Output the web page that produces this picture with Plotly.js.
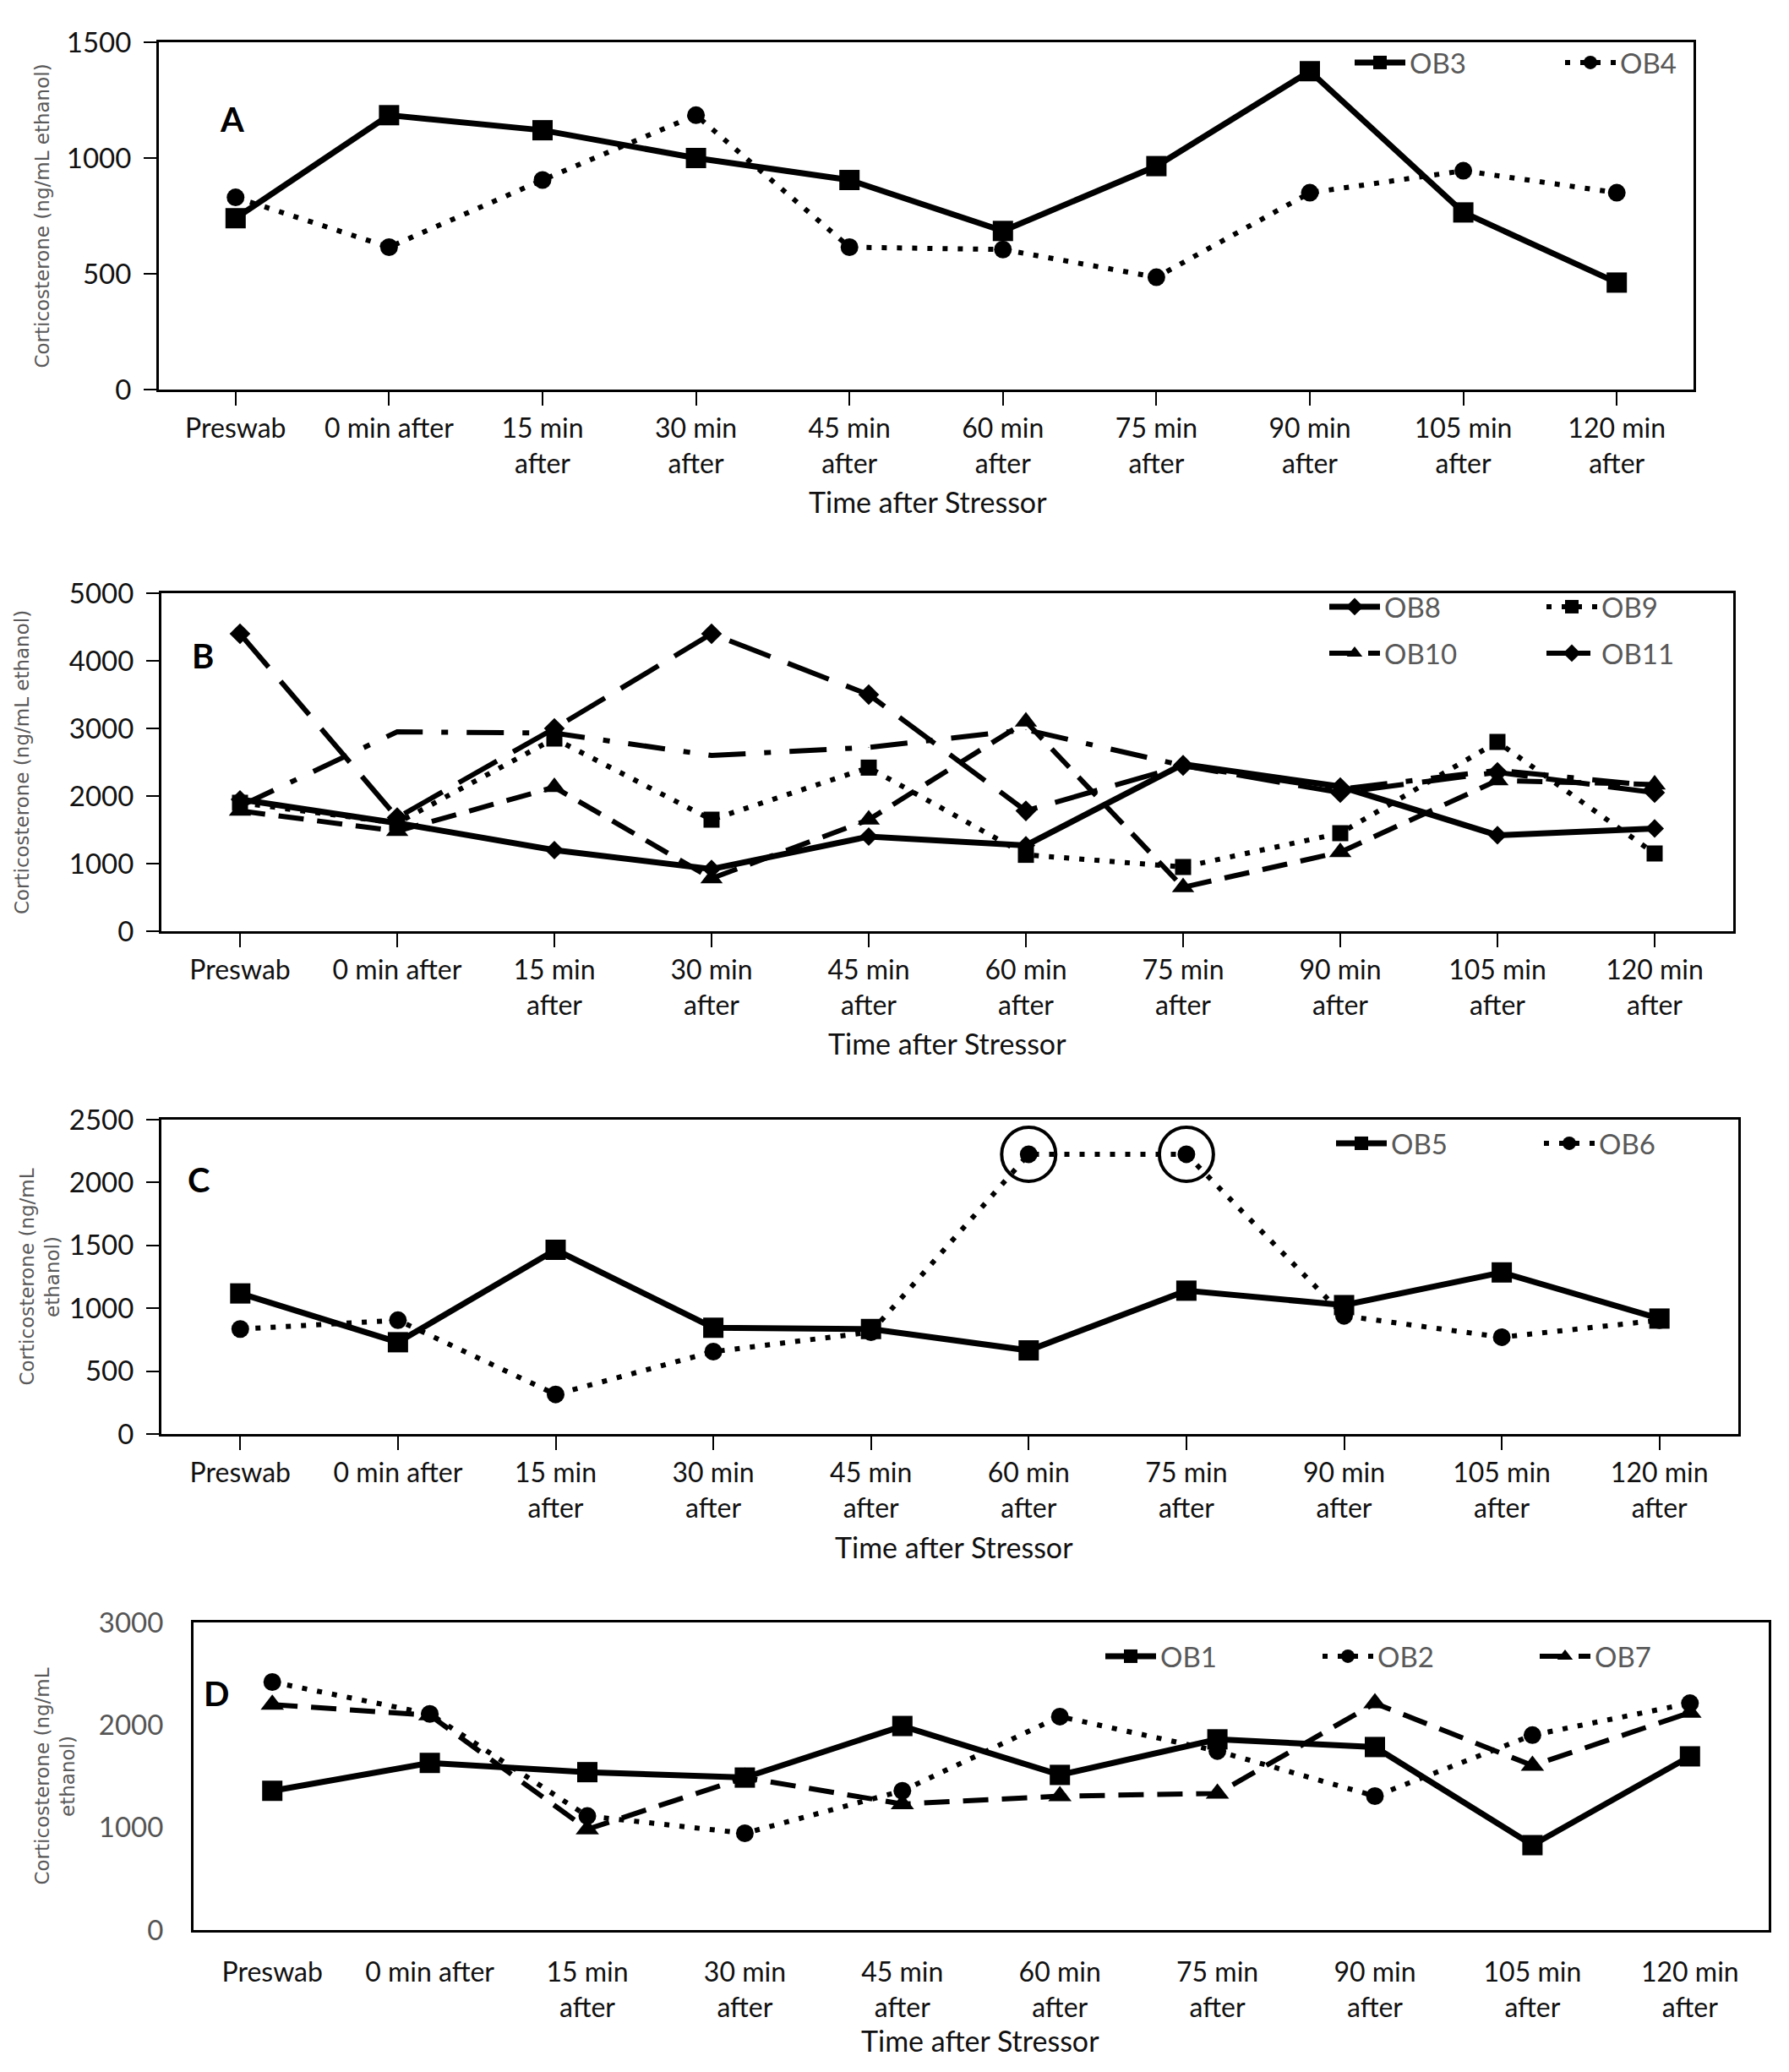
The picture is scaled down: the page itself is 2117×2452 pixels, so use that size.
<!DOCTYPE html>
<html>
<head>
<meta charset="utf-8">
<script src="https://cdn.plot.ly/plotly-3.0.1.min.js"></script>
<style>html,body{margin:0;padding:0;background:#fff;}#chart{width:2117px;height:2452px;}</style>
</head>
<body>
<div id="chart"></div>
<script>
// ---- categories ----
const cats = ['Preswab','0 min after','15 min<br>after','30 min<br>after','45 min<br>after','60 min<br>after','75 min<br>after','90 min<br>after','105 min<br>after','120 min<br>after'];

// ---- Panel A ----
const ob3 = [740, 1185, 1120, 1000, 905, 685, 965, 1375, 765, 462];
const ob4 = [830, 615, 905, 1185, 615, 605, 485, 850, 945, 850];

// ---- Panel B ----
const ob8  = [1950, 1600, 1200, 920, 1400, 1270, 2470, 2140, 1420, 1520];
const ob9  = [1900, 1600, 2850, 1650, 2420, 1130, 950, 1450, 2800, 1150];
const ob10 = [1780, 1480, 2130, 780, 1650, 3100, 650, 1170, 2230, 2170];
const ob11 = [4400, 1680, 3000, 4400, 3500, 1780, 2450, 2050, 2350, 2050];
const obBx = [1850, 2950, 2930, 2600, 2720, 2980, 2450, 2100, 2380, 2150];

// ---- Panel C ----
const ob5 = [1118, 730, 1465, 845, 835, 665, 1140, 1025, 1285, 918];
const ob6 = [835, 905, 315, 655, 810, 2225, 2225, 940, 770, 905];
const circledIdx = [5, 6];

// ---- Panel D ----
const ob1 = [1358, 1630, 1540, 1487, 1990, 1513, 1860, 1785, 828, 1694];
const ob2 = [2419, 2108, 1112, 944, 1358, 2082, 1746, 1306, 1901, 2212];
const ob7 = [2199, 2095, 983, 1487, 1229, 1306, 1332, 2212, 1604, 2121];

const FONT = 'Lato, "Open Sans", sans-serif';
const solid = 'solid';
const dotted = '6px,12px';
const dashed = '30px,16px';
const longdash = '52px,22px';
const dashdot = '44px,22px,8px,22px';

function tr(y, name, xa, ya, dash, symbol, legend, msize, show, lw) {
  return {
    type: 'scatter', mode: 'lines+markers', x: cats, y: y, name: name,
    xaxis: xa, yaxis: ya, legend: legend, showlegend: show !== false,
    line: {color: '#000', width: lw || 6, dash: dash},
    marker: {color: '#000', symbol: symbol, size: msize || 20},
    cliponaxis: false
  };
}

const data = [
  tr(ob3, 'OB3', 'x', 'y', solid, 'square', 'legend', 24, true, 7),
  tr(ob4, 'OB4', 'x', 'y', dotted, 'circle', 'legend', 21),

  tr(obBx, 'OB11b', 'x2', 'y2', dashdot, 'diamond', 'legend3', 1, false),
  tr(ob8, 'OB8', 'x2', 'y2', solid, 'diamond', 'legend2', 17, true, 7),
  tr(ob9, 'OB9', 'x2', 'y2', dotted, 'square', 'legend2', 19),
  tr(ob10, 'OB10', 'x2', 'y2', dashed, 'triangle-up', 'legend3', 23),
  tr(ob11, 'OB11', 'x2', 'y2', longdash, 'diamond', 'legend3', 19),

  tr(ob5, 'OB5', 'x3', 'y3', solid, 'square', 'legend4', 24, true, 7),
  tr(ob6, 'OB6', 'x3', 'y3', dotted, 'circle', 'legend4', 21),
  {
    type: 'scatter', mode: 'markers', xaxis: 'x3', yaxis: 'y3', showlegend: false,
    x: circledIdx.map(i => cats[i]), y: circledIdx.map(i => ob6[i]),
    marker: {symbol: 'circle-open', size: 64, color: '#000', line: {width: 4, color: '#000'}},
    cliponaxis: false, hoverinfo: 'skip'
  },

  tr(ob1, 'OB1', 'x4', 'y4', solid, 'square', 'legend5', 24, true, 7),
  tr(ob2, 'OB2', 'x4', 'y4', dotted, 'circle', 'legend5', 21),
  tr(ob7, 'OB7', 'x4', 'y4', dashed, 'triangle-up', 'legend5', 24)
];

const W = 2117, H = 2452;
function xd(a, b) { return [a / W, b / W]; }
function yd(top, bot) { return [1 - bot / H, 1 - top / H]; }

function xax(dom, anchor, ticks, lblOff) {
  return {
    domain: dom, anchor: anchor, type: 'category', range: [-0.5, 9.5],
    showline: true, mirror: true, linecolor: '#000', linewidth: 3,
    ticks: ticks ? 'outside' : '', ticklen: 16, tickwidth: 2, tickcolor: '#000',
    ticklabelstandoff: lblOff || 0,
    showgrid: false, zeroline: false, automargin: false,
    tickfont: {family: FONT, size: 32, color: '#111'}
  };
}
function yax(dom, anchor, max, dtick, ticks, title, tcol, standoff, lblOff) {
  return {
    domain: dom, anchor: anchor, range: [0, max], dtick: dtick,
    showline: true, mirror: true, linecolor: '#000', linewidth: 3,
    ticks: ticks ? 'outside' : '', ticklen: 15, tickwidth: 2, tickcolor: '#000',
    ticklabelstandoff: lblOff,
    showgrid: false, zeroline: false, automargin: false,
    tickfont: {family: FONT, size: 33, color: tcol || '#111'},
    title: {text: title, font: {family: '"DejaVu Sans", sans-serif', size: 23, color: '#595959'}, standoff: standoff}
  };
}
function leg(x, y, ew) {
  return {
    x: x / W, y: 1 - y / H, xanchor: 'left', yanchor: 'middle', orientation: 'h',
    font: {family: FONT, size: 33, color: '#595959'}, bgcolor: 'rgba(0,0,0,0)',
    entrywidth: ew, entrywidthmode: 'pixels', itemwidth: 60, traceorder: 'normal'
  };
}
function note(text, x, y, size, bold, col) {
  return {text: bold ? '<b>' + text + '</b>' : text, x: x / W, y: 1 - y / H, xref: 'paper', yref: 'paper',
    showarrow: false, xanchor: 'center', yanchor: 'middle', font: {family: FONT, size: size, color: col || '#000'}};
}

const layout = {
  width: W, height: H, margin: {l: 0, r: 0, t: 0, b: 0},
  paper_bgcolor: '#fff', plot_bgcolor: '#fff', showlegend: true,
  xaxis: xax(xd(188, 2004), 'y', true),
  yaxis: yax(yd(50, 461), 'x', 1500, 500, true, 'Corticosterone (ng/mL ethanol)', '#111', 14, 8),
  xaxis2: xax(xd(191, 2051), 'y2', true),
  yaxis2: yax(yd(702, 1102), 'x2', 5000, 1000, true, 'Corticosterone (ng/mL ethanol)', '#111', 41, 8),
  xaxis3: xax(xd(191, 2057), 'y3', true),
  yaxis3: yax(yd(1325, 1697), 'x3', 2500, 500, true, 'Corticosterone (ng/mL<br>ethanol)', '#111', 5, 8),
  xaxis4: xax(xd(229, 2093), 'y4', false, 20),
  yaxis4: yax(yd(1920, 2284), 'x4', 3000, 1000, false, 'Corticosterone (ng/mL<br>ethanol)', '#555', 22, 26),
  legend: leg(1598, 74, 174),
  legend2: leg(1568, 718, 182),
  legend3: leg(1568, 773, 182),
  legend4: leg(1576, 1353, 171),
  legend5: leg(1303, 1960, 182),
  annotations: [
    note('A', 274, 141, 40, true),
    note('B', 240, 776, 40, true),
    note('C', 235, 1396, 40, true),
    note('D', 256, 2004, 40, true),
    note('Time after Stressor', 1098, 593, 34, false, '#111'),
    note('Time after Stressor', 1121, 1234, 34, false, '#111'),
    note('Time after Stressor', 1129, 1830, 34, false, '#111'),
    note('Time after Stressor', 1160, 2414, 34, false, '#111')
  ]
};

Plotly.newPlot('chart', data, layout, {staticPlot: true, displayModeBar: false});
</script>
</body>
</html>
